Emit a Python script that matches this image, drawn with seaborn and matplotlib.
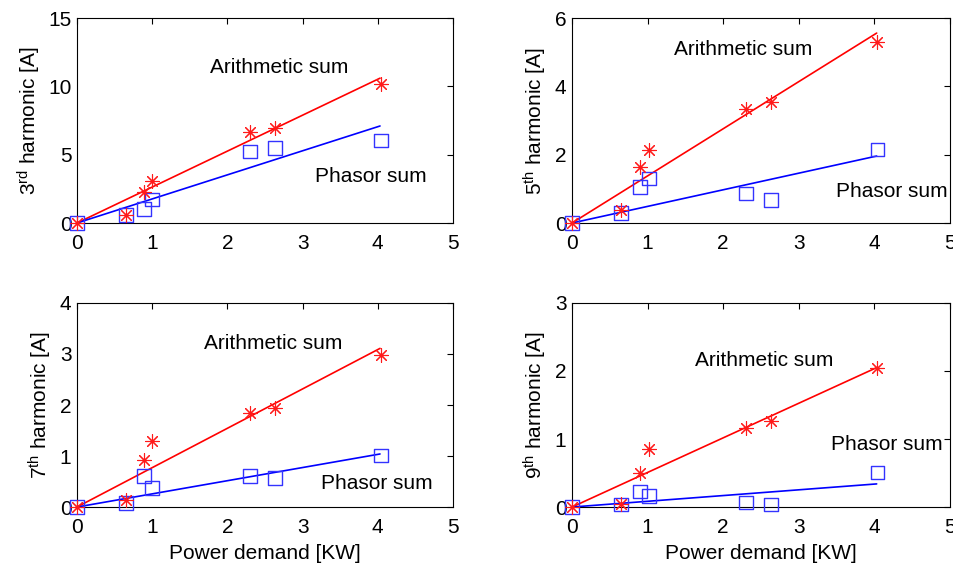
import numpy as np
import pandas as pd
import matplotlib
matplotlib.use("Agg")
import matplotlib.pyplot as plt
import seaborn as sns

sns.set_style("white")
plt.rcParams['font.family'] = ['Liberation Sans', 'DejaVu Sans']
plt.rcParams['mathtext.fontset'] = 'custom'
plt.rcParams['mathtext.rm'] = 'Liberation Sans'
plt.rcParams['mathtext.it'] = 'Liberation Sans'
plt.rcParams['text.color'] = 'black'
plt.rcParams['axes.labelcolor'] = 'black'
plt.rcParams['xtick.color'] = 'black'
plt.rcParams['ytick.color'] = 'black'

# Power demand [KW]
power = [0, 0.65, 0.89, 1.0, 2.3, 2.63, 4.04]
power_r = [0, 0.65, 0.90, 1.02, 2.3, 2.63, 4.04]

arith_3 = [0, 0.55, 2.28, 3.04, 6.67, 6.98, 10.2]
phasor_3 = [0, 0.6, 1.03, 1.72, 5.25, 5.5, 6.05]
arith_5 = [0, 0.37, 1.64, 2.14, 3.35, 3.55, 5.3]
phasor_5 = [0, 0.29, 1.05, 1.30, 0.86, 0.67, 2.15]
arith_7 = [0, 0.14, 0.92, 1.29, 1.84, 1.95, 2.99]
phasor_7 = [0, 0.08, 0.61, 0.37, 0.61, 0.57, 1.01]
arith_9 = [0, 0.05, 0.50, 0.86, 1.16, 1.27, 2.04]
phasor_9 = [0, 0.04, 0.23, 0.16, 0.07, 0.04, 0.51]

# fitted trend lines (end points)
fit_x = [0, 4.03]
fit_arith_3 = [0, 10.6]
fit_phasor_3 = [0, 7.1]
fit_arith_5 = [0, 5.56]
fit_phasor_5 = [0, 1.96]
fit_arith_7 = [0, 3.11]
fit_phasor_7 = [0, 1.04]
fit_arith_9 = [0, 2.05]
fit_phasor_9 = [0, 0.34]

ylabels = [r'3$^{\mathrm{rd}}$ harmonic [A]', r'5$^{\mathrm{th}}$ harmonic [A]',
           r'7$^{\mathrm{th}}$ harmonic [A]', r'9$^{\mathrm{th}}$ harmonic [A]']
ylims = [15, 6, 4, 3]
yticks = [[0, 5, 10, 15], [0, 2, 4, 6], [0, 1, 2, 3, 4], [0, 1, 2, 3]]
xpos = [power, power_r, power, power_r]
arith = [arith_3, arith_5, arith_7, arith_9]
phasor = [phasor_3, phasor_5, phasor_7, phasor_9]
fa = [fit_arith_3, fit_arith_5, fit_arith_7, fit_arith_9]
fp = [fit_phasor_3, fit_phasor_5, fit_phasor_7, fit_phasor_9]
# text label positions (x, y) for "Arithmetic sum" and "Phasor sum"
arith_txt = [(1.77, 11.4), (1.35, 5.08), (1.69, 3.21), (1.63, 2.16)]
phasor_txt = [(3.16, 3.43), (3.49, 0.93), (3.25, 0.47), (3.43, 0.92)]

fig = plt.figure(figsize=(9.54, 5.64), dpi=100)
boxes = [
    (0.0807, 0.6046, 0.3941, 0.3634),
    (0.5996, 0.6046, 0.3962, 0.3634),
    (0.0807, 0.1010, 0.3941, 0.3618),
    (0.5996, 0.1010, 0.3962, 0.3618),
]
fs = 15
for i, b in enumerate(boxes):
    ax = fig.add_axes(b)
    df_p = pd.DataFrame({'x': xpos[i], 'y': phasor[i]})
    df_a = pd.DataFrame({'x': xpos[i], 'y': arith[i]})
    df_fa = pd.DataFrame({'x': fit_x, 'y': fa[i]})
    df_fp = pd.DataFrame({'x': fit_x, 'y': fp[i]})
    sns.lineplot(data=df_fa, x='x', y='y', ax=ax, color='#ff0000', lw=1.2)
    sns.lineplot(data=df_fp, x='x', y='y', ax=ax, color='#0000ff', lw=1.2)
    sns.scatterplot(data=df_p, x='x', y='y', ax=ax, marker='s', s=95,
                    facecolor='none', edgecolor='#3333ff', linewidth=1.0,
                    zorder=3, clip_on=False)
    sns.scatterplot(data=df_a, x='x', y='y', ax=ax, marker=(8, 2, 0), s=100,
                    color='#ff1a1a', edgecolor='#ff1a1a', linewidth=0.8,
                    zorder=4, clip_on=False)
    ax.set_xlim(0, 5)
    ax.set_ylim(0, ylims[i])
    ax.set_xticks([0, 1, 2, 3, 4, 5])
    ax.set_yticks(yticks[i])
    ax.tick_params(direction='in', top=True, right=True, length=4, width=0.8,
                   labelsize=fs, colors='black')
    ax.tick_params(axis='y', pad=4)
    ax.tick_params(axis='x', pad=8)
    for s in ax.spines.values():
        s.set_color('black')
        s.set_linewidth(0.8)
    ax.set_ylabel(ylabels[i], fontsize=fs, labelpad=4, color='black')
    if i >= 2:
        ax.set_xlabel('Power demand [KW]', fontsize=fs, labelpad=5, color='black')
    else:
        ax.set_xlabel('')
    ax.text(arith_txt[i][0], arith_txt[i][1], 'Arithmetic sum', fontsize=fs,
            ha='left', va='center', color='black')
    ax.text(phasor_txt[i][0], phasor_txt[i][1], 'Phasor sum', fontsize=fs,
            ha='left', va='center', color='black')

fig.savefig('out.png', dpi=100)
